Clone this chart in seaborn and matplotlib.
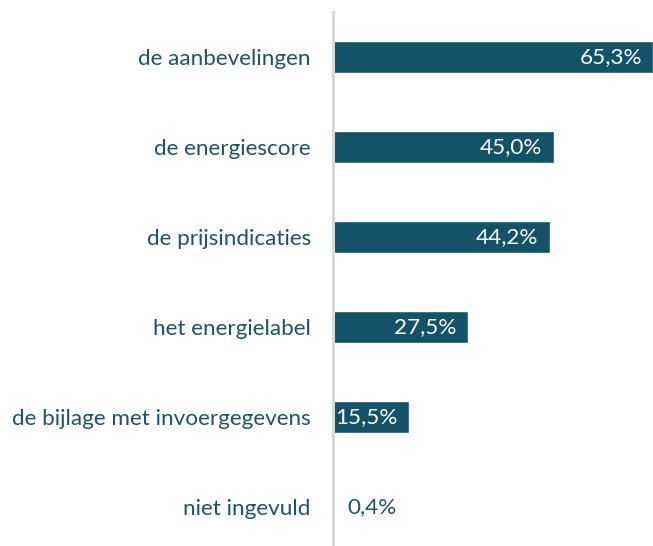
import matplotlib
matplotlib.use("Agg")
import matplotlib.pyplot as plt
import seaborn as sns
import pandas as pd

categories = ["de aanbevelingen", "de energiescore", "de prijsindicaties",
              "het energielabel", "de bijlage met invoergegevens", "niet ingevuld"]
values = [65.3, 45.0, 44.2, 27.5, 15.5, 0.4]
labels = ["65,3%", "45,0%", "44,2%", "27,5%", "15,5%", "0,4%"]

sns.set_style("white")
plt.rcParams['font.family'] = ['Lato', 'DejaVu Sans']

bar_color = "#135369"
text_color = "#1d5466"

df = pd.DataFrame({"cat": categories, "val": values})

fig = plt.figure(figsize=(6.53, 5.46), dpi=100)
ax = fig.add_axes([333/653, 0, 1 - 333/653, (546 - 12) / 546])
sns.barplot(data=df, x="val", y="cat", color=bar_color, width=0.35,
            saturation=1, ax=ax, orient="h")
ax.set_xlim(0, 65.3)
ax.set_ylim(5.433, -0.5)
ax.set_xlabel("")
ax.set_ylabel("")
ax.set_xticks([])
for s in ["top", "right", "bottom"]:
    ax.spines[s].set_visible(False)
ax.spines["left"].set_color("#d9d9d9")
ax.spines["left"].set_linewidth(2.2)
ax.tick_params(axis="y", length=0, pad=16, labelsize=16.2, labelcolor=text_color)

for i, (v, lab) in enumerate(zip(values, labels)):
    if v > 5:
        ax.annotate(lab, xy=(v, i), xytext=(-8, 0), textcoords="offset points",
                    ha="right", va="center", color="white", fontsize=16.2)
    else:
        ax.annotate(lab, xy=(v, i), xytext=(9, 0), textcoords="offset points",
                    ha="left", va="center", color=text_color, fontsize=16.2)

fig.savefig("out.png", dpi=100)
